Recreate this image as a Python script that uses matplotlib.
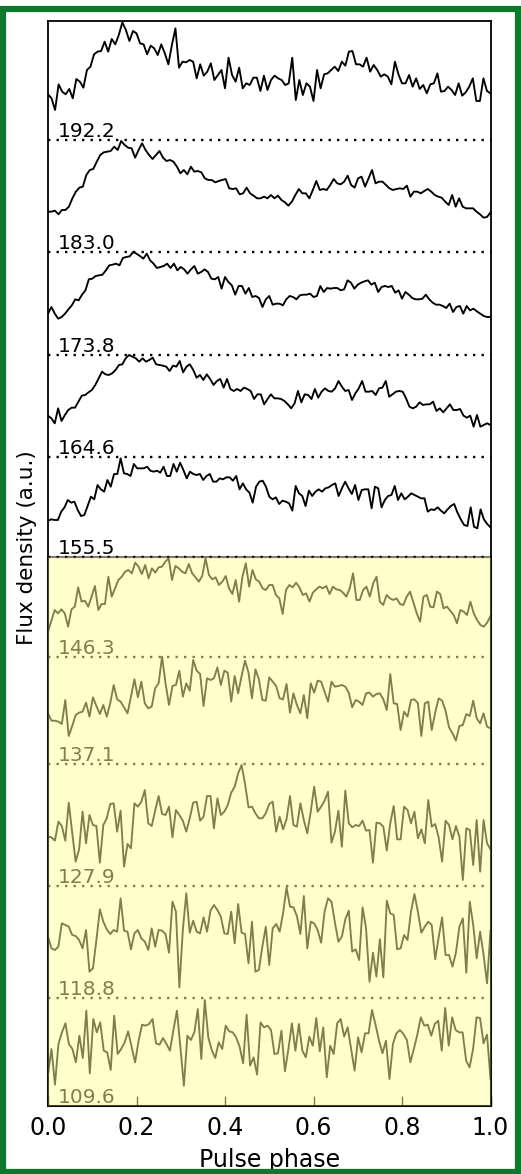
#!/usr/bin/env python3
import numpy as np
import matplotlib
matplotlib.use("Agg")
import matplotlib.pyplot as plt
from matplotlib.patches import Rectangle

# ---------------------------------------------------------
# Data: pulse profiles (a.u.), one per frequency channel (MHz)
# ---------------------------------------------------------
FREQS = ["192.2", "183.0", "173.8", "164.6", "155.5",
         "146.3", "137.1", "127.9", "118.8", "109.6"]

# vertical offset of each profile baseline (a.u.)
OFFSETS = [2898, 2562, 2254, 1947, 1648, 1348, 1025, 660, 323, 0]

p1922 = [137, 125, 90, 167, 145, 137, 153, 125, 183, 175, 157, 210, 220, 257, 265, 267, 295, 265, 303, 287,
         315, 353, 330, 297, 327, 320, 290, 287, 257, 283, 275, 255, 287, 260, 227, 285, 335, 217, 235, 233,
         240, 235, 185, 227, 193, 205, 230, 180, 195, 210, 155, 247, 195, 175, 217, 155, 170, 165, 187, 187,
         147, 193, 150, 180, 193, 185, 180, 165, 170, 247, 120, 180, 135, 170, 160, 117, 210, 155, 197, 200,
         210, 220, 207, 235, 223, 265, 267, 227, 227, 220, 247, 205, 225, 210, 190, 197, 190, 167, 235, 197,
         170, 170, 195, 160, 185, 153, 165, 140, 167, 170, 200, 145, 147, 160, 150, 135, 170, 133, 143, 160,
         185, 117, 117, 185, 147, 140]

p1830 = [121, 121, 124, 113, 126, 126, 136, 161, 181, 193, 196, 231, 246, 249, 271, 291, 299, 301, 303, 316,
         306, 333, 321, 313, 311, 283, 306, 326, 306, 291, 279, 291, 303, 283, 273, 276, 271, 256, 236, 246,
         233, 256, 241, 243, 239, 221, 216, 216, 209, 213, 216, 219, 191, 189, 191, 173, 176, 193, 176, 169,
         161, 161, 166, 161, 171, 161, 169, 156, 149, 139, 151, 171, 189, 176, 176, 161, 186, 213, 186, 189,
         186, 201, 219, 206, 203, 211, 229, 201, 193, 221, 226, 196, 221, 246, 206, 211, 211, 201, 191, 186,
         189, 191, 189, 199, 166, 181, 181, 176, 183, 189, 181, 171, 166, 163, 151, 141, 171, 136, 161, 136,
         131, 131, 131, 121, 113, 103, 105, 119]

p1738 = [123, 143, 123, 108, 113, 123, 136, 148, 166, 163, 180, 193, 226, 228, 236, 238, 240, 253, 268, 270,
         273, 268, 290, 293, 295, 308, 303, 296, 288, 303, 283, 273, 260, 263, 266, 273, 260, 273, 253, 263,
         256, 243, 256, 266, 243, 248, 256, 248, 228, 226, 233, 198, 233, 218, 208, 180, 206, 206, 183, 200,
         173, 176, 170, 143, 166, 176, 150, 153, 153, 148, 166, 176, 173, 166, 178, 180, 180, 183, 173, 176,
         206, 188, 200, 198, 200, 200, 193, 196, 223, 216, 198, 210, 216, 220, 223, 210, 216, 188, 203, 206,
         203, 206, 186, 193, 168, 188, 180, 170, 166, 166, 168, 180, 166, 156, 150, 150, 146, 140, 153, 128,
         143, 146, 123, 146, 133, 138, 130, 123, 116, 113, 113]

p1646 = [124, 116, 101, 146, 108, 126, 141, 148, 148, 166, 184, 186, 194, 201, 216, 236, 256, 248, 246, 251,
         261, 276, 278, 296, 306, 301, 296, 286, 296, 286, 291, 298, 278, 276, 274, 271, 258, 274, 271, 288,
         254, 271, 278, 261, 238, 246, 231, 248, 234, 216, 228, 234, 208, 234, 204, 198, 204, 198, 208, 204,
         198, 174, 188, 188, 158, 174, 188, 176, 176, 174, 168, 158, 146, 161, 198, 164, 188, 186, 174, 204,
         178, 196, 206, 198, 196, 206, 228, 211, 198, 201, 171, 191, 206, 228, 196, 196, 198, 186, 206, 208,
         228, 181, 188, 196, 198, 196, 176, 151, 146, 151, 164, 156, 158, 158, 166, 138, 146, 134, 146, 158,
         141, 141, 144, 124, 118, 124, 91, 126, 91, 96, 101, 96]

p1555 = [108, 112, 110, 110, 135, 148, 170, 162, 165, 140, 122, 125, 152, 180, 172, 215, 202, 195, 230, 210,
         248, 248, 295, 250, 248, 242, 278, 265, 265, 265, 270, 258, 255, 258, 252, 270, 242, 242, 278, 255,
         282, 260, 235, 255, 248, 245, 248, 230, 242, 248, 225, 225, 235, 232, 238, 238, 228, 242, 202, 220,
         202, 192, 162, 210, 225, 228, 210, 180, 172, 178, 158, 168, 165, 160, 138, 212, 190, 182, 152, 198,
         182, 195, 202, 195, 205, 208, 215, 220, 182, 205, 225, 205, 188, 215, 170, 200, 202, 202, 145, 210,
         205, 148, 170, 182, 185, 212, 170, 190, 172, 180, 190, 185, 180, 175, 175, 135, 142, 140, 148, 138,
         130, 142, 152, 158, 132, 112, 95, 92, 148, 90, 85, 142, 112, 98, 88]

p1463 = [75, 108, 140, 130, 142, 130, 90, 142, 150, 208, 165, 168, 150, 180, 212, 140, 158, 158, 240, 180,
         205, 230, 240, 255, 260, 250, 282, 270, 248, 275, 235, 265, 252, 268, 270, 285, 295, 230, 272, 265,
         255, 250, 278, 250, 238, 225, 242, 295, 245, 232, 238, 215, 225, 242, 205, 188, 230, 165, 240, 280,
         210, 260, 232, 225, 205, 200, 215, 215, 185, 175, 128, 200, 215, 208, 222, 208, 185, 190, 165, 192,
         202, 210, 205, 212, 188, 210, 202, 200, 192, 180, 205, 250, 170, 170, 200, 210, 180, 220, 240, 165,
         155, 185, 175, 170, 175, 158, 155, 180, 195, 162, 130, 105, 180, 185, 150, 148, 195, 188, 145, 150,
         138, 125, 100, 140, 135, 125, 165, 130, 110, 95, 90, 102, 122]

p1371 = [153, 131, 131, 128, 121, 193, 85, 115, 148, 155, 158, 185, 143, 201, 175, 151, 178, 143, 183, 238,
         195, 188, 171, 153, 203, 255, 201, 248, 183, 168, 173, 228, 243, 323, 243, 178, 235, 238, 281, 203,
         243, 221, 313, 281, 271, 175, 258, 253, 258, 291, 238, 281, 275, 188, 265, 213, 265, 311, 275, 198,
         285, 255, 193, 191, 261, 248, 235, 198, 195, 241, 155, 213, 178, 153, 208, 138, 243, 215, 251, 248,
         218, 188, 248, 233, 235, 238, 233, 215, 171, 193, 188, 178, 213, 215, 203, 211, 213, 195, 163, 271,
         183, 181, 103, 158, 143, 193, 195, 183, 85, 183, 188, 103, 155, 198, 191, 161, 111, 93, 71, 115,
         118, 151, 145, 191, 138, 123, 153, 113, 108]

p1279 = [148, 146, 136, 193, 180, 136, 250, 160, 73, 110, 223, 128, 213, 183, 180, 70, 183, 203, 246, 248,
         163, 226, 58, 126, 113, 248, 238, 253, 288, 188, 180, 226, 270, 216, 213, 238, 146, 228, 213, 196,
         163, 203, 250, 253, 196, 208, 270, 270, 173, 263, 213, 223, 243, 280, 298, 338, 363, 306, 236, 238,
         218, 203, 203, 218, 246, 253, 163, 208, 170, 200, 270, 183, 178, 248, 198, 158, 223, 298, 223, 238,
         256, 283, 130, 163, 226, 118, 286, 188, 176, 183, 180, 196, 166, 168, 70, 190, 188, 178, 106, 188,
         240, 140, 140, 238, 228, 188, 223, 143, 170, 128, 258, 178, 186, 146, 73, 196, 183, 140, 180, 148,
         18, 173, 168, 63, 198, 43, 198, 128, 110]

p1188 = [185, 150, 145, 155, 225, 220, 215, 190, 187, 175, 150, 205, 80, 90, 175, 267, 230, 207, 193, 205,
         200, 300, 203, 200, 147, 195, 205, 180, 170, 145, 210, 155, 205, 203, 193, 137, 290, 260, 33, 205,
         315, 197, 233, 200, 195, 243, 200, 263, 280, 265, 245, 195, 193, 260, 165, 283, 197, 193, 105, 230,
         80, 85, 155, 215, 100, 210, 223, 200, 255, 333, 275, 273, 247, 193, 307, 150, 230, 225, 205, 167,
         260, 300, 290, 227, 170, 185, 237, 263, 140, 147, 115, 273, 210, 50, 137, 65, 177, 63, 293, 255,
         250, 147, 150, 190, 175, 260, 313, 260, 197, 215, 230, 220, 117, 183, 243, 130, 130, 95, 137, 215,
         240, 77, 290, 220, 120, 200, 130, 45, 203]

p1096 = [96, 171, 64, 186, 221, 248, 186, 171, 131, 211, 144, 286, 98, 261, 221, 251, 166, 161, 108, 271,
         156, 171, 191, 224, 178, 131, 196, 244, 241, 246, 261, 188, 184, 204, 186, 166, 228, 286, 176, 61,
         211, 198, 221, 291, 141, 318, 206, 168, 144, 191, 171, 241, 224, 221, 206, 178, 128, 274, 121, 146,
         94, 251, 236, 241, 228, 156, 158, 226, 104, 171, 248, 166, 246, 166, 146, 208, 181, 264, 164, 236,
         86, 181, 156, 248, 261, 208, 236, 171, 106, 206, 161, 218, 218, 288, 244, 196, 158, 196, 81, 186,
         218, 228, 216, 198, 131, 171, 214, 266, 241, 244, 211, 246, 256, 166, 294, 181, 266, 228, 221, 221,
         136, 116, 171, 266, 264, 188, 214, 81]

PROFILES = [p1922, p1830, p1738, p1646, p1555, p1463, p1371, p1279, p1188, p1096]

# channels below this baseline are shaded
SHADE_TOP = 1648
Y_TOP = 3255


def main():
    W, H = 521, 1174
    fig = plt.figure(figsize=(W / 100, H / 100), dpi=100)
    ax = fig.add_axes([48 / W, 1 - 1106 / H, 442.5 / W, 1085 / H])

    for label, off, prof in zip(FREQS, OFFSETS, PROFILES):
        y = np.array(prof, dtype=float) + off
        x = np.linspace(0, 1, len(y))
        ax.plot(x, y, color="k", lw=1.35, zorder=2)
        if off > 0:
            ax.axhline(off, color="k", ls=(0, (1, 2.6)), lw=1.7, zorder=2)
        ax.text(0.022, off + 9, label, fontsize=14.5, va="baseline", ha="left", zorder=3)

    # shaded (yellow) block over the low-frequency channels
    ax.add_patch(Rectangle((0, 0), 1, SHADE_TOP, facecolor="#ffff99", edgecolor="k",
                           lw=1.5, alpha=0.5, zorder=10, clip_on=False))

    ax.set_xlim(0, 1)
    ax.set_ylim(0, Y_TOP)
    ax.set_yticks([])
    ax.set_xticks([0.0, 0.2, 0.4, 0.6, 0.8, 1.0])
    ax.tick_params(axis="x", direction="in", length=7, width=1, labelsize=17, pad=7)
    for sp in ax.spines.values():
        sp.set_linewidth(1.3)
    ax.set_xlabel("Pulse phase", fontsize=17, labelpad=6)
    ax.set_ylabel("Flux density (a.u.)", fontsize=15.5)
    ax.yaxis.set_label_coords(-0.025, 0.515)

    # green frame round the figure
    fig.patches.append(Rectangle((3 / W, 2 / H), 515 / W, 1163.5 / H, transform=fig.transFigure,
                                 fill=False, edgecolor="#0b7a2c", lw=4.5))

    fig.savefig("out.png", dpi=100)
    plt.close(fig)


if __name__ == "__main__":
    main()
